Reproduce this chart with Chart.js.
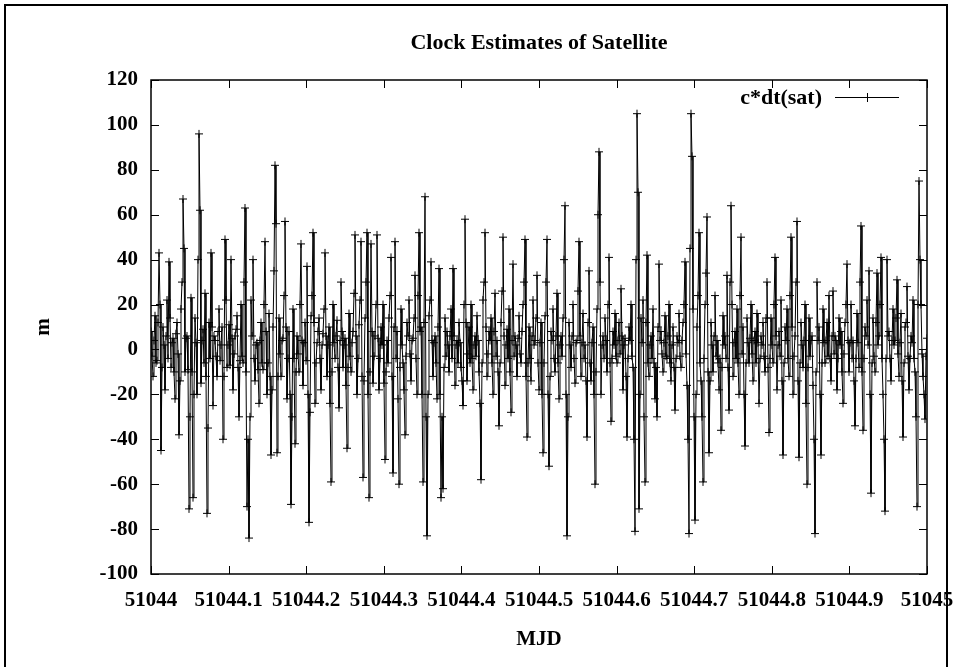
<!DOCTYPE html>
<html><head><meta charset="utf-8">
<script src="https://cdn.jsdelivr.net/npm/chart.js@4.4.0/dist/chart.umd.min.js"></script>
<style>html,body{margin:0;padding:0;background:#fff;}#wrap{width:957px;height:667px;position:relative;}</style>
</head><body><div id="wrap"><canvas id="c" width="957" height="667"></canvas></div>
<script>
const titleText = 'Clock Estimates of Satellite';
const xAxisTitle = 'MJD';
const yAxisTitle = 'm';
const seriesName = 'c*dt(sat)';
const startMJD = 51044;
const stepDays = 1 / 776;
const clockValues = [
  8,-3,-12,4,15,-6,-5,12,43,20,-45,-8,10,2,-18,6,22,-4,39,14,-8,3,5,-10,-22,7,12,-2,-38,-14,18,30,67,45,-10,5,6,-9,-71,-30,
  23,-10,-66,-20,14,3,-20,40,96,62,-15,4,9,-6,25,-12,-73,-35,12,-4,43,10,-25,6,4,-3,-12,8,18,-5,2,10,-40,-12,49,22,-8,2,11,-7,
  40,5,-18,-2,6,9,15,-8,-30,-5,20,-3,-6,30,63,-10,-70,-40,-84,-30,22,6,40,-4,-14,2,3,-9,-24,4,12,-6,-9,20,48,8,-20,-6,16,-12,
  -47,-18,10,35,82,56,-46,-12,14,-2,-12,4,5,24,57,10,-22,-4,8,-20,-69,-30,18,-4,-42,-10,6,-2,-10,20,47,4,-16,3,12,-5,37,-20,-77,-28,
  15,24,52,12,-24,-6,3,8,14,-4,-18,2,7,18,43,6,-12,2,10,-24,-59,-10,20,3,-4,6,13,-8,-26,4,30,8,-8,2,5,-16,-44,-8,16,-3,
  -10,3,8,25,51,6,-20,-4,11,22,48,-12,-57,-14,14,30,52,-20,-66,-10,47,8,-15,-3,6,20,51,5,-18,-4,10,2,20,-15,-49,-10,4,-6,14,24,
  41,-12,-55,10,48,-4,8,-22,-60,-8,18,2,-6,-18,-38,-3,12,6,22,-2,-14,4,5,14,33,-4,-20,24,52,8,10,-20,-59,12,68,-30,-83,-20,15,22,
  39,4,-12,3,6,-6,-22,10,36,-20,-66,-30,-62,-8,14,-3,8,2,-10,6,18,-4,36,6,-16,2,4,-6,12,3,-8,-14,-25,20,58,12,-14,-2,10,-6,
  20,-4,-18,2,6,-3,15,4,-10,-24,-58,-6,22,30,52,10,-12,-2,8,4,14,-6,-20,8,25,-3,4,-10,-34,-6,12,26,50,6,-16,2,9,-4,18,-10,
  -28,4,38,-3,6,2,-12,5,15,-2,-6,8,20,30,49,-12,-39,-6,10,-4,-14,6,22,2,4,14,33,-6,-18,3,12,-20,-46,-6,15,30,49,-20,-52,-12,
  8,4,18,-4,-10,6,25,-6,-22,2,6,-3,14,40,64,-20,-83,-30,12,2,-8,6,20,-4,-15,3,4,26,48,6,-12,3,16,-4,2,-14,-39,12,35,-6,
  -14,3,10,-20,-60,-10,18,60,88,30,-20,2,6,-4,14,4,-10,20,41,-6,-32,-4,8,2,16,-3,-6,4,12,-2,27,6,-18,2,5,-12,-39,-4,10,4,
  20,-3,-8,-40,-81,40,105,70,-71,-20,14,3,22,-30,-59,12,42,-6,-12,2,6,-4,18,-6,-22,-8,-30,10,38,4,8,-2,-10,3,15,-3,-4,6,20,-6,
  -14,2,10,-8,-27,-4,6,3,16,-3,-8,4,12,20,39,-2,-16,-40,-82,45,105,86,18,-30,-76,-20,10,24,52,-6,-14,-30,-59,-4,20,34,59,-10,-46,-14,
  12,2,-10,6,24,-3,4,-6,-18,-4,-36,-8,15,2,6,-4,33,-8,-27,30,64,20,-12,3,8,-4,18,-6,-20,24,50,-2,10,-20,-43,-6,14,3,-6,5,
  20,-2,-14,4,8,-6,16,3,-24,-4,6,2,12,-3,-10,14,30,-8,-37,-4,14,2,-6,20,41,6,-18,2,8,-3,22,-14,-47,-6,10,4,18,-4,-12,24,
  50,10,-20,-3,6,30,57,-14,-48,-6,12,2,-8,4,20,-24,-60,-8,14,-3,4,6,-16,-40,-82,-10,30,4,10,-20,-47,-6,18,3,-6,4,12,-3,24,-4,
  -14,6,26,-2,6,4,-18,-4,14,2,8,-10,-24,-2,12,20,38,4,-10,3,20,-4,4,-14,-34,-4,16,3,-8,30,55,-10,-36,-4,10,6,22,2,35,-20,
  -64,-6,14,-3,-10,12,34,2,6,20,41,-4,-20,-40,-72,-4,40,6,8,-4,-14,4,18,2,4,14,31,-2,-12,3,16,-14,-39,-6,10,12,28,-3,-18,-4,
  6,3,22,-4,-10,-30,-70,20,75,40,20,-2,-12,-20,-31,-3,5
];
const xTickValues = [51044, 51044.1, 51044.2, 51044.3, 51044.4, 51044.5, 51044.6, 51044.7, 51044.8, 51044.9, 51045];
const yTickValues = [-100, -80, -60, -40, -20, 0, 20, 40, 60, 80, 100, 120];

const FONT_FAMILY = "'Liberation Serif','Times New Roman',serif";
const pts = clockValues.map((v, i) => ({x: startMJD + i * stepDays, y: v}));

const decorPlugin = {
  id: 'decor',
  afterDraw(chart) {
    const ctx = chart.ctx;
    const a = chart.chartArea;
    const xs = chart.scales.x, ys = chart.scales.y;
    ctx.save();
    ctx.strokeStyle = '#000';
    ctx.lineWidth = 2;
    ctx.beginPath();
    ctx.moveTo(5, 667); ctx.lineTo(5, 5); ctx.lineTo(947, 5); ctx.lineTo(947, 667);
    ctx.stroke();
    ctx.lineWidth = 1.5;
    ctx.strokeRect(a.left, a.top, a.right - a.left, a.bottom - a.top);
    ctx.lineWidth = 1;
    ctx.beginPath();
    const tl = 8;
    yTickValues.forEach(v => {
      const y = Math.round(ys.getPixelForValue(v)) + 0.5;
      ctx.moveTo(a.left, y); ctx.lineTo(a.left + tl, y);
      ctx.moveTo(a.right, y); ctx.lineTo(a.right - tl, y);
    });
    xTickValues.forEach(v => {
      const x = Math.round(xs.getPixelForValue(v)) + 0.5;
      ctx.moveTo(x, a.bottom); ctx.lineTo(x, a.bottom - tl);
      ctx.moveTo(x, a.top); ctx.lineTo(x, a.top + tl);
    });
    ctx.stroke();
    ctx.fillStyle = '#000';
    ctx.font = 'bold 22px ' + FONT_FAMILY;
    ctx.textAlign = 'center';
    ctx.textBaseline = 'middle';
    ctx.fillText(titleText, (a.left + a.right) / 2, 43);
    ctx.font = 'bold 22px ' + FONT_FAMILY;
    ctx.textAlign = 'right';
    ctx.fillText(seriesName, 822, 98);
    ctx.beginPath();
    ctx.moveTo(835, 97.5); ctx.lineTo(899, 97.5);
    ctx.moveTo(867.5, 93); ctx.lineTo(867.5, 102);
    ctx.stroke();
    ctx.restore();
  }
};

new Chart(document.getElementById('c'), {
  type: 'line',
  data: {
    datasets: [{
      label: seriesName,
      data: pts,
      borderColor: '#000',
      borderWidth: 1,
      pointStyle: 'cross',
      pointRadius: 4,
      pointBorderColor: '#000',
      pointBorderWidth: 1,
      pointBackgroundColor: '#000',
      tension: 0,
      fill: false
    }]
  },
  options: {
    responsive: false,
    animation: false,
    layout: {padding: {left: 0, right: 30, top: 80, bottom: 0}},
    plugins: {legend: {display: false}, title: {display: false}, tooltip: {enabled: false}},
    scales: {
      x: {
        type: 'linear', min: 51044, max: 51045,
        afterBuildTicks: s => { s.ticks = xTickValues.map(v => ({value: v})); },
        afterFit: s => { s.height = 93; s.paddingLeft = 0; s.paddingRight = 0; },
        grid: {display: false, drawTicks: false},
        border: {display: false},
        ticks: {
          autoSkip: false, maxRotation: 0, minRotation: 0, padding: 14, color: '#000',
          font: {family: FONT_FAMILY, size: 21, weight: 'bold'},
          callback: v => String(Number(v.toFixed(1)))
        },
        title: {display: true, text: xAxisTitle, color: '#000', padding: {top: 0, bottom: 15},
          font: {family: FONT_FAMILY, size: 21, weight: 'bold'}}
      },
      y: {
        type: 'linear', min: -100, max: 120,
        afterBuildTicks: s => { s.ticks = yTickValues.map(v => ({value: v})); },
        afterFit: s => { s.width = 151; s.paddingTop = 0; s.paddingBottom = 0; },
        grid: {display: false, drawTicks: false},
        border: {display: false},
        ticks: {
          autoSkip: false, padding: 13, color: '#000',
          font: {family: FONT_FAMILY, size: 21, weight: 'bold'},
          callback: v => String(v)
        },
        title: {display: true, text: yAxisTitle, color: '#000', padding: {top: 31, bottom: 0},
          font: {family: FONT_FAMILY, size: 21, weight: 'bold'}}
      }
    }
  },
  plugins: [decorPlugin]
});
</script>
</body></html>
